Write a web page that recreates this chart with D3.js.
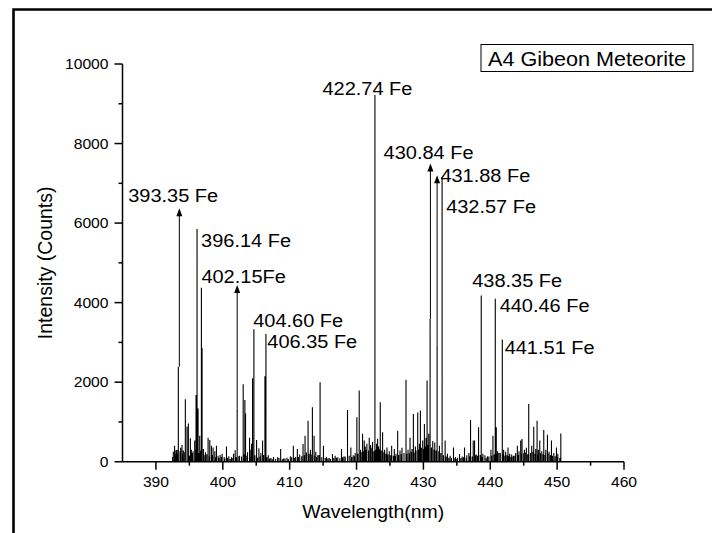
<!DOCTYPE html>
<html><head><meta charset="utf-8">
<script src="https://cdn.jsdelivr.net/npm/d3@7"></script>
<style>
html,body{margin:0;padding:0;background:#fff;}
svg{display:block;}
text{font-family:"Liberation Sans",Arial,sans-serif;fill:#000;}
</style></head>
<body>
<svg id="chart" width="712" height="533"></svg>
<script>
// ---- data ----
const xTicks = [390, 400, 410, 420, 430, 440, 450, 460];
const yTicks = [0, 2000, 4000, 6000, 8000, 10000];
const xLabel = "Wavelength(nm)";
const yLabel = "Intensity (Counts)";
const boxTitle = "A4 Gibeon Meteorite";

// main emission peaks (wavelength nm, intensity counts)
const peakWave = [392.79, 393.0, 393.35, 394.4, 394.65, 394.85, 395.15, 395.8, 396.0, 396.15, 396.3, 396.55, 396.8, 396.9,
  397.8, 398.05, 398.3, 398.55, 399.05, 399.9, 400.55, 401.85, 402.15, 403.05, 403.3, 403.4, 404.0, 404.3, 404.45, 404.65,
  405.05, 405.4, 405.95, 406.3, 406.45, 408.65, 410.55, 411.15, 412.0, 412.3, 412.75, 413.4, 413.65, 414.55, 415.05,
  416.4, 417.75, 418.65, 419.15, 420.05, 420.4, 420.9, 421.15, 421.55, 421.9, 422.75, 423.15, 423.55, 423.9, 424.55,
  425.25, 425.65, 426.15, 427.4, 428.0, 428.5, 429.15, 429.55, 429.9, 430.15, 430.55, 431.0, 432.05, 432.8, 433.25,
  434.5, 435.4, 436.15, 437.05, 437.45, 437.65, 438.25, 438.65, 440.4, 440.75, 440.9, 441.8, 442.65, 444.05, 444.55,
  444.75, 445.75, 446.5, 447.0, 447.4, 448.0, 448.55, 449.15, 449.9, 450.55];
const peakValue = [400, 290, 2390, 1570, 880, 960, 590, 530, 1680, 5850, 1340, 655, 4375, 2850,
  600, 545, 400, 355, 400, 200, 380, 290, 1340, 1945, 1550, 1215, 600, 450, 2100, 3330,
  545, 340, 530, 2150, 3210, 320, 400, 320, 445, 655, 1030, 1370, 655, 2000, 400,
  195, 320, 1300, 355, 1115, 1790, 700, 530, 450, 600, 9220, 580, 1495, 740, 355,
  400, 320, 780, 2060, 600, 1200, 1240, 1285, 530, 950, 2040, 3590, 2920, 7145, 530,
  355, 195, 355, 1050, 530, 530, 865, 4180, 655, 4100, 865, 3070, 355, 400, 530,
  570, 1450, 880, 1030, 530, 800, 680, 530, 355, 710];

// weaker lines
const minorWave = [392.6, 392.9, 393.15, 393.7, 393.9, 394.1, 395.3, 395.55, 397.1, 397.4, 398.8, 399.3, 399.6, 400.2,
  400.9, 401.3, 401.6, 402.5, 402.8, 403.7, 404.2, 405.7, 406.8, 407.2, 407.6, 408.2, 409.1, 409.6, 410.1, 410.9,
  411.5, 412.5, 413.1, 413.9, 414.2, 415.5, 415.9, 416.8, 417.2, 418.1, 419.5, 419.8, 420.6, 421.3, 422.1, 422.4,
  423.0, 423.3, 424.2, 424.9, 425.9, 426.5, 426.8, 427.7, 428.3, 428.8, 429.4, 430.4, 430.8, 431.4, 431.7, 432.4,
  433.6, 434.0, 434.8, 435.1, 435.8, 436.5, 436.8, 437.9, 438.9, 439.2, 439.6, 440.1, 441.1, 441.3, 442.0, 442.3,
  442.9, 443.2, 443.5, 443.8, 444.3, 445.1, 445.4, 446.2, 446.8, 447.2, 447.7, 448.3, 448.8, 449.5, 450.1];
const minorValue = [250, 180, 300, 350, 420, 280, 300, 260, 320, 240, 260, 150, 170, 120,
  140, 110, 200, 150, 130, 240, 300, 220, 160, 90, 120, 110, 80, 100, 140, 120,
  180, 230, 300, 250, 160, 120, 90, 150, 110, 130, 160, 220, 300, 380, 420, 500,
  450, 380, 300, 260, 200, 280, 350, 300, 320, 380, 450, 600, 700, 520, 480, 400,
  200, 150, 120, 100, 130, 160, 220, 180, 200, 160, 140, 300, 260, 220, 300, 250,
  200, 180, 150, 220, 260, 300, 350, 400, 320, 300, 260, 300, 250, 220, 200];

// baseline clutter
const noiseWave = [392.5, 393.2, 393.6, 394.0, 394.3, 395.0, 395.4, 395.9, 396.4, 396.7,
  397.2, 397.6, 398.0, 398.4, 398.9, 399.4, 399.8, 400.3, 400.7, 401.1,
  401.5, 402.0, 402.4, 403.2, 403.6, 404.1, 404.8, 405.2, 405.6, 406.1,
  406.6, 407.0, 407.4, 407.9, 408.4, 408.9, 409.3, 409.8, 410.3, 410.7,
  411.3, 411.8, 412.2, 412.9, 413.3, 413.7, 414.0, 414.4, 414.8, 415.3,
  415.7, 416.1, 416.6, 417.0, 417.5, 417.9, 418.3, 418.9, 419.3, 419.7,
  420.2, 420.7, 421.0, 421.4, 421.8, 422.2, 422.6, 422.9, 423.4, 423.7,
  424.1, 424.4, 424.7, 425.1, 425.5, 425.8, 426.3, 426.7, 427.1, 427.5,
  427.9, 428.2, 428.6, 428.9, 429.3, 429.7, 430.0, 430.3, 430.7, 431.2,
  431.6, 431.9, 432.3, 432.6, 433.0, 433.4, 433.8, 434.2, 434.6, 435.0,
  435.6, 436.0, 436.4, 436.9, 437.3, 437.8, 438.1, 438.5, 438.8, 439.4,
  439.8, 440.2, 440.6, 441.0, 441.5, 441.9, 442.2, 442.5, 442.8, 443.1,
  443.4, 443.7, 444.2, 444.6, 445.0, 445.3, 445.6, 446.0, 446.4, 446.7,
  447.1, 447.5, 447.9, 448.2, 448.6, 449.0, 449.3, 449.7, 450.0, 450.4];
const noiseValue = [120, 200, 260, 180, 240, 150, 210, 300, 220, 280,
  160, 190, 130, 170, 110, 90, 120, 80, 100, 70,
  90, 110, 140, 180, 150, 120, 160, 100, 130, 170,
  110, 80, 60, 70, 90, 60, 80, 70, 110, 90,
  120, 140, 160, 200, 180, 150, 120, 170, 110, 90,
  80, 70, 90, 100, 80, 110, 130, 150, 120, 140,
  200, 240, 260, 300, 280, 350, 260, 300, 320, 280,
  240, 200, 180, 160, 150, 140, 170, 190, 220, 200,
  210, 250, 230, 280, 300, 350, 320, 380, 420, 360,
  300, 280, 260, 220, 160, 130, 100, 90, 80, 70,
  90, 110, 100, 140, 130, 160, 150, 170, 120, 100,
  130, 150, 180, 200, 220, 190, 150, 160, 140, 120,
  130, 150, 170, 200, 210, 230, 190, 220, 250, 200,
  180, 210, 190, 170, 200, 160, 150, 140, 120, 100];

// annotated lines: label, label anchor (nm, counts)
const annLabels = ["393.35 Fe", "396.14 Fe", "402.15Fe", "404.60 Fe", "406.35 Fe", "422.74 Fe",
  "430.84 Fe", "431.88 Fe", "432.57 Fe", "438.35 Fe", "440.46 Fe", "441.51 Fe"];
const annWave = [385.85, 396.75, 396.8, 404.55, 406.65, 414.9, 424.05, 432.54, 433.4, 437.3, 441.4, 442.15];
const annValue = [6526, 5394, 4503, 3396, 2860, 9225, 7608, 7044, 6249, 4395, 3774, 2709];

// arrows: wavelength, from, to
const arrowWave = [393.5, 402.15, 431.05, 432.05];
const arrowFrom = [2390, 1340, 3590, 2920];
const arrowTo = [6370, 4440, 7500, 7205];

// ---- drawing ----
const svg = d3.select("#chart");
const X0 = 122.5, X1 = 624, Y0 = 461.7, Y1 = 64;
const x = d3.scaleLinear().domain([385, 460]).range([X0, X1]);
const y = d3.scaleLinear().domain([0, 10000]).range([Y0, Y1]);
const SX = 1.08;

// page frame
svg.append("path").attr("d", "M13.5,533 V9.5 H712").attr("fill", "none").attr("stroke", "#000").attr("stroke-width", 2.6);

// spectrum
const peaks = [];
noiseWave.forEach((w, i) => { if (noiseValue[i] != null) peaks.push({w, v: noiseValue[i]}); });
minorWave.forEach((w, i) => { if (minorValue[i] != null) peaks.push({w, v: minorValue[i]}); });
peakWave.forEach((w, i) => { if (peakValue[i] != null) peaks.push({w, v: peakValue[i]}); });
peaks.sort((a, b) => a.w - b.w);
let d = "";
peaks.forEach(p => { d += `M${x(p.w).toFixed(2)},${y(0)}V${y(p.v).toFixed(2)}`; });
svg.append("path").attr("d", d).attr("stroke", "#000").attr("stroke-width", 1.1).attr("fill", "none");

// arrows
arrowWave.forEach((w, i) => {
  const ax = x(w), ay = y(arrowTo[i]);
  svg.append("line").attr("x1", ax).attr("x2", ax).attr("y1", y(arrowFrom[i])).attr("y2", ay + 4)
    .attr("stroke", "#000").attr("stroke-width", 1);
  svg.append("path").attr("d", `M${ax},${ay} L${ax - 3},${ay + 8} L${ax + 3},${ay + 8} Z`).attr("fill", "#000");
});

// axes
const ax = svg.append("g").attr("stroke", "#000").attr("fill", "none");
ax.append("line").attr("x1", X0 - 8).attr("x2", X1).attr("y1", Y0).attr("y2", Y0).attr("stroke-width", 1.5);
ax.append("line").attr("x1", X0).attr("x2", X0).attr("y1", Y0).attr("y2", Y1).attr("stroke-width", 1.5);
d3.range(390, 461, 5).forEach(t => {
  const major = t % 10 === 0;
  ax.append("line").attr("x1", x(t)).attr("x2", x(t)).attr("y1", Y0).attr("y2", Y0 + (major ? 8 : 4)).attr("stroke-width", 1.5);
});
d3.range(1000, 10001, 1000).forEach(t => {
  const major = t % 2000 === 0;
  ax.append("line").attr("x1", X0).attr("x2", X0 - (major ? 8 : 4)).attr("y1", y(t)).attr("y2", y(t)).attr("stroke-width", 1.5);
});

function stretched(g, tx, ty, str, size, anchor) {
  return g.append("text").attr("transform", `translate(${tx},${ty}) scale(${SX},1)`)
    .attr("font-size", size).attr("text-anchor", anchor || "start").text(str);
}
xTicks.forEach(t => stretched(svg, x(t), 487, t, 14.5, "middle"));
yTicks.forEach(t => stretched(svg, X0 - 14, y(t) + 5, t, 14.5, "end"));

stretched(svg, (X0 + X1) / 2, 518, xLabel, 18, "middle");
svg.append("text").attr("transform", `translate(52,${(Y0 + Y1) / 2}) rotate(-90) scale(1,${SX})`)
  .attr("font-size", 19.5).attr("text-anchor", "middle").text(yLabel);

annLabels.forEach((s, i) => stretched(svg, x(annWave[i]), y(annValue[i]), s, 18.5, "start"));

// title box
const tb = svg.append("g");
tb.append("rect").attr("x", 481).attr("y", 44.5).attr("width", 212).attr("height", 27).attr("fill", "none").attr("stroke", "#000").attr("stroke-width", 1);
stretched(tb, 587, 65.5, boxTitle, 20, "middle");
</script>
</body></html>
